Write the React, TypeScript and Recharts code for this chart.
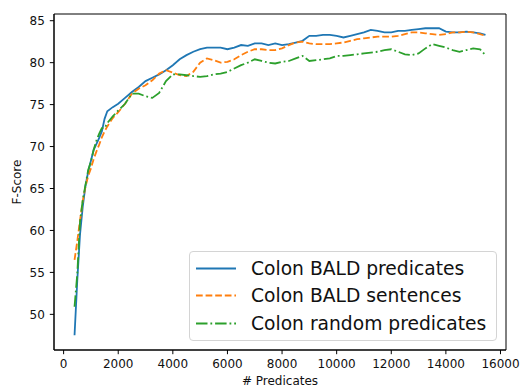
import React from 'react';
import { LineChart, Line, XAxis, YAxis, Legend, ReferenceArea } from 'recharts';

// # predicates on the x axis, shared by all three runs
const predicates = [
  400, 500, 600, 700, 800, 900, 1000, 1100, 1200, 1300, 1400, 1500, 1600, 1800, 2000,
  2250, 2500, 2750, 3000, 3250, 3500, 3750, 4000, 4250, 4500, 4750, 5000, 5250, 5500,
  5750, 6000, 6250, 6500, 6750, 7000, 7250, 7500, 7750, 8000, 8250, 8500, 8750, 9000,
  9250, 9500, 9750, 10000, 10250, 10500, 10750, 11000, 11250, 11500, 11750, 12000,
  12250, 12500, 12750, 13000, 13250, 13500, 13750, 14000, 14250, 14500, 14750, 15000,
  15250, 15450,
];

const baldPredicates = [
  47.5, 54.0, 59.5, 62.8, 65.3, 67.0, 68.3, 69.6, 70.3, 71.0, 71.8, 73.3, 74.2, 74.7, 75.1,
  75.8, 76.5, 77.1, 77.8, 78.2, 78.6, 79.1, 79.7, 80.4, 80.9, 81.3, 81.6, 81.8, 81.8,
  81.8, 81.6, 81.8, 82.1, 82.0, 82.3, 82.3, 82.1, 82.3, 82.1, 82.2, 82.4, 82.6, 83.2,
  83.2, 83.3, 83.3, 83.2, 83.0, 83.2, 83.4, 83.6, 83.9, 83.8, 83.6, 83.6,
  83.8, 83.8, 83.9, 84.0, 84.1, 84.1, 84.1, 83.7, 83.6, 83.6, 83.7, 83.6,
  83.5, 83.3,
];

const baldSentences = [
  56.5, 58.7, 61.2, 63.5, 65.2, 66.5, 67.4, 68.5, 69.4, 70.2, 71.1, 71.8, 72.4, 73.4, 74.1,
  75.1, 76.3, 76.9, 77.3, 77.9, 78.7, 79.1, 78.8, 78.5, 78.4, 78.9, 80.0, 80.5, 80.3,
  80.0, 80.1, 80.4, 80.9, 81.3, 81.6, 81.6, 81.5, 81.5, 81.7, 82.1, 82.4, 82.5, 82.3,
  82.2, 82.2, 82.2, 82.3, 82.4, 82.6, 82.8, 82.9, 83.0, 83.1, 83.1, 83.1,
  83.2, 83.4, 83.6, 83.6, 83.5, 83.4, 83.3, 83.4, 83.6, 83.6, 83.7, 83.6,
  83.4, 83.2,
];

const randomPredicates = [
  50.9, 54.8, 61.0, 63.6, 65.4, 67.2, 68.2, 69.6, 70.7, 71.5, 72.2, 72.2, 72.8, 73.6, 74.3,
  75.1, 76.3, 76.3, 76.0, 75.8, 76.4, 77.8, 78.6, 78.6, 78.5, 78.4, 78.3, 78.4, 78.6,
  78.7, 78.9, 79.3, 79.7, 80.0, 80.4, 80.2, 80.0, 79.9, 80.1, 80.2, 80.5, 80.8, 80.2,
  80.3, 80.4, 80.5, 80.8, 80.8, 80.9, 81.0, 81.1, 81.2, 81.3, 81.5, 81.6,
  81.3, 81.0, 80.9, 81.1, 81.7, 82.2, 82.0, 81.8, 81.5, 81.3, 81.5, 81.7,
  81.6, 80.9,
];

const xTicks = [0, 2000, 4000, 6000, 8000, 10000, 12000, 14000, 16000];
const yTicks = [50, 55, 60, 65, 70, 75, 80, 85];
const xDomain = [-352, 16202];
const yDomain = [45.75, 85.8];

const series = [
  { key: 'baldPredicates', name: 'Colon BALD predicates', color: '#1f77b4', dash: undefined },
  { key: 'baldSentences', name: 'Colon BALD sentences', color: '#ff7f0e', dash: '6.7 2.9' },
  { key: 'randomPredicates', name: 'Colon random predicates', color: '#2ca02c', dash: '11.5 2.9 1.8 2.9' },
];

const data = predicates.map((x, i) => ({
  x,
  baldPredicates: baldPredicates[i],
  baldSentences: baldSentences[i],
  randomPredicates: randomPredicates[i],
}));

const FONT = '"DejaVu Sans", sans-serif';
const tickStyle = { fontSize: 12, fill: '#111', fontFamily: FONT };

// matplotlib-style legend box, lower right
const LegendBox = () => (
  <div
    style={{
      position: 'relative',
      width: 308,
      height: 90,
      boxSizing: 'border-box',
      border: '1px solid #d4d4d4',
      borderRadius: 4,
      background: 'rgba(255,255,255,0.8)',
      fontFamily: FONT,
    }}
  >
    {series.map((s, i) => (
      <div key={s.key} style={{ position: 'absolute', left: 0, top: 4 + i * 27.3, height: 25, width: 300 }}>
        <svg width={50} height={25} style={{ position: 'absolute', left: 0, top: 0 }}>
          <line x1={6} x2={46} y1={12.5} y2={12.5} stroke={s.color} strokeWidth={1.8} strokeDasharray={s.dash} />
        </svg>
        <span
          style={{
            position: 'absolute',
            left: 61,
            top: 0,
            lineHeight: '25px',
            fontSize: 18.7,
            color: '#111',
            whiteSpace: 'nowrap',
          }}
        >
          {s.name}
        </span>
      </div>
    ))}
  </div>
);

const YLabel = ({ viewBox }: any) => {
  const cx = 17;
  const cy = viewBox.y + viewBox.height / 2;
  return (
    <text
      x={cx}
      y={cy}
      transform={`rotate(-90 ${cx} ${cy})`}
      textAnchor="middle"
      dominantBaseline="central"
      fontSize={12}
      fill="#111"
      fontFamily={FONT}
    >
      F-Score
    </text>
  );
};

export default function App() {
  return (
    <div style={{ position: 'absolute', left: 0, top: 0, width: 523, height: 387, background: '#fff' }}>
      <LineChart width={523} height={387} data={data} margin={{ top: 14, right: 17, left: 0, bottom: 0 }}>
        <XAxis
          dataKey="x"
          type="number"
          domain={xDomain}
          ticks={xTicks}
          allowDataOverflow
          height={37}
          tick={tickStyle}
          tickSize={4.2}
          tickMargin={5}
          stroke="#000"
          tickLine={{ stroke: '#000' }}
          label={{ value: '# Predicates', position: 'insideBottom', offset: 2, fontSize: 12, fill: '#111', fontFamily: FONT }}
        />
        <YAxis
          type="number"
          domain={yDomain}
          ticks={yTicks}
          allowDataOverflow
          width={54}
          tick={tickStyle}
          tickSize={4.2}
          tickMargin={5}
          stroke="#000"
          tickLine={{ stroke: '#000' }}
          label={<YLabel />}
        />
        {/* frame round the plot area (matplotlib spines) */}
        <ReferenceArea
          x1={xDomain[0]}
          x2={xDomain[1]}
          y1={yDomain[0]}
          y2={yDomain[1]}
          fill="none"
          fillOpacity={0}
          stroke="#000"
          strokeWidth={1}
          ifOverflow="visible"
        />
        {series.map((s) => (
          <Line
            key={s.key}
            dataKey={s.key}
            name={s.name}
            stroke={s.color}
            strokeWidth={1.8}
            strokeDasharray={s.dash}
            dot={false}
            type="linear"
            isAnimationActive={false}
          />
        ))}
        <Legend
          layout="vertical"
          align="center"
          verticalAlign="middle"
          content={<LegendBox />}
          wrapperStyle={{ left: 189, top: 251, width: 308, height: 90 }}
        />
      </LineChart>
    </div>
  );
}
